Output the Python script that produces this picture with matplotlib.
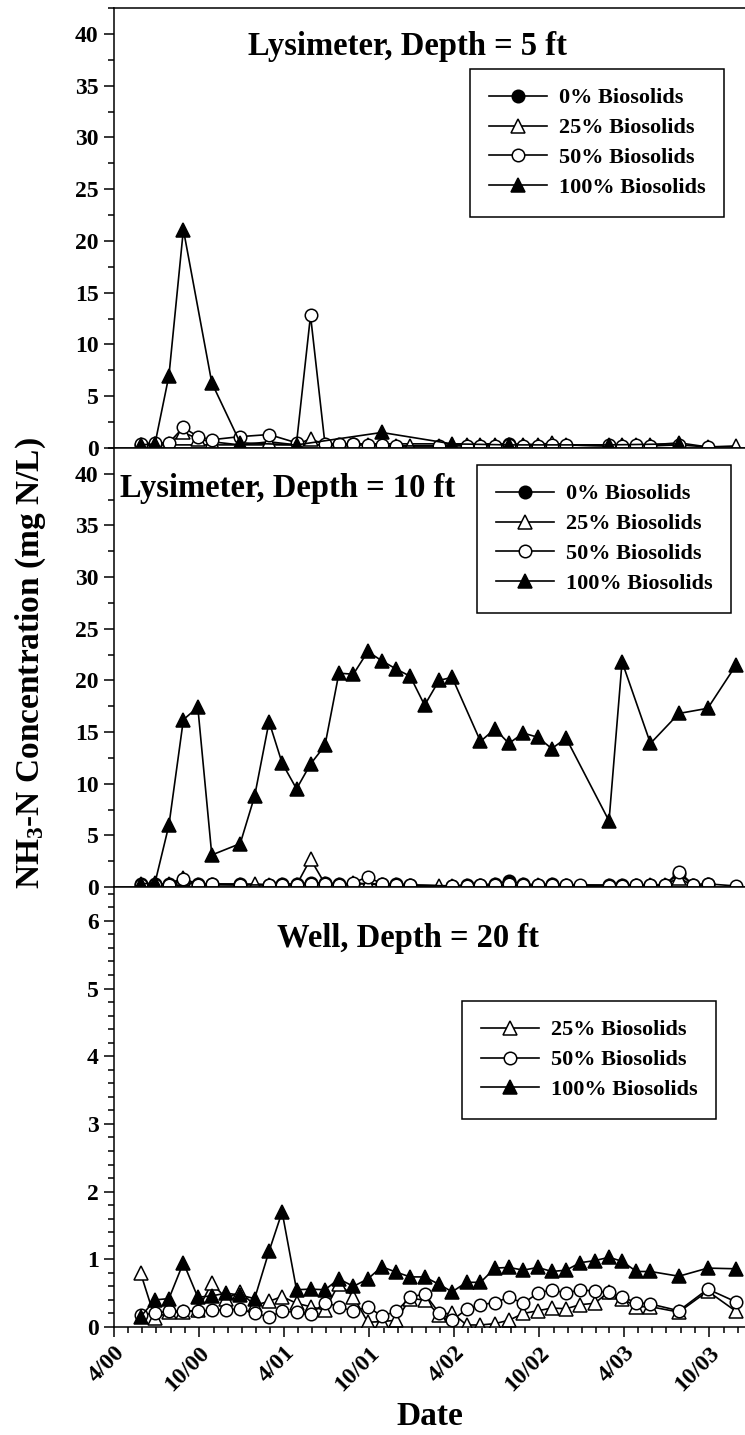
import numpy as np
import pandas as pd
import matplotlib
matplotlib.use("Agg")
import matplotlib.pyplot as plt
import matplotlib.dates as mdates
from matplotlib.ticker import MultipleLocator

plt.rcParams['font.family'] = 'Liberation Serif'
plt.rcParams['font.weight'] = 'bold'
plt.rcParams['axes.labelweight'] = 'bold'
plt.rcParams['mathtext.fontset'] = 'custom'
plt.rcParams['mathtext.rm'] = 'Liberation Serif:bold'
plt.rcParams['mathtext.it'] = 'Liberation Serif:bold'
plt.rcParams['mathtext.bf'] = 'Liberation Serif:bold'

N = None

# sampling dates (roughly monthly)
dates = ["2000-05-28", "2000-06-28", "2000-07-28", "2000-08-28", "2000-09-28", "2000-10-28",
         "2000-11-28", "2000-12-28", "2001-01-28", "2001-02-28", "2001-03-28", "2001-04-28",
         "2001-05-28", "2001-06-28", "2001-07-28", "2001-08-28", "2001-09-28", "2001-10-28",
         "2001-11-28", "2001-12-28", "2002-01-28", "2002-02-28", "2002-03-28", "2002-04-28",
         "2002-05-28", "2002-06-28", "2002-07-28", "2002-08-28", "2002-09-28", "2002-10-28",
         "2002-11-28", "2002-12-28", "2003-01-28", "2003-02-28", "2003-03-28", "2003-04-28",
         "2003-05-28", "2003-06-28", "2003-07-28", "2003-08-28", "2003-09-28", "2003-10-28",
         "2003-11-28"]

# Lysimeter, 5 ft
lys5_0 = [0.3, 0.3, N, N, N, N, N, N, N, N, N, N, N, N, 0.3, 0.4, N, N, N, N, N, N,
          N, N, N, N, 0.4, N, N, N, N, N, N, 0.2, N, N, N, N, N, N, N, N, N]
lys5_25 = [0.3, 0.4, 0.4, 1.5, 0.9, 0.6, N, 0.3, N, 0.6, N, 0.3, 0.9, 0.3, 0.3, 0.3, 0.3, 0.2, 0.2, 0.2, N, 0.2,
           0.3, 0.3, 0.3, 0.3, 0.3, 0.3, 0.3, 0.5, 0.3, N, N, 0.2, 0.3, 0.3, 0.3, N, 0.5, N, 0.1, N, 0.2]
lys5_50 = [0.4, 0.5, 0.5, 2.0, 1.1, 0.8, N, 1.1, N, 1.3, N, 0.5, 12.8, 0.4, 0.4, 0.4, 0.3, 0.3, 0.2, N, N, 0.2,
           N, 0.2, 0.2, 0.2, 0.3, 0.2, 0.2, 0.3, 0.3, N, N, 0.3, 0.2, 0.3, 0.2, N, 0.3, N, 0.1, N, N]
lys5_100 = [0.3, 0.4, 7.0, 21.1, N, 6.3, N, 0.5, N, N, N, 0.3, N, N, N, N, N, 1.5, N, N, N, N,
            0.4, N, N, N, 0.3, N, N, N, N, N, N, 0.3, N, N, N, N, 0.4, N, N, N, N]

# Lysimeter, 10 ft
lys10_0 = [0.3, 0.3, 0.3, 0.4, 0.3, 0.3, N, 0.3, N, 0.2, 0.3, 0.3, 0.4, 0.4, 0.3, 0.3, N, 0.3, 0.3, 0.2, N, N,
           0.1, 0.2, 0.2, 0.3, 0.6, 0.3, 0.2, 0.3, 0.2, N, N, 0.2, 0.2, 0.2, 0.2, 0.2, 1.3, 0.2, 0.3, N, N]
lys10_25 = [0.2, 0.2, 0.3, 0.9, 0.2, 0.2, N, 0.2, 0.3, 0.2, 0.2, 0.2, 2.7, 0.3, 0.2, 0.4, 0.3, 0.2, 0.2, 0.1, N, 0.1,
            0.1, 0.1, 0.1, 0.2, 0.2, 0.2, 0.2, 0.2, 0.1, N, N, 0.1, 0.1, 0.1, 0.2, 0.2, 0.9, 0.1, 0.2, N, N]
lys10_50 = [0.2, 0.2, 0.2, 0.8, 0.2, 0.3, N, 0.2, N, 0.2, 0.2, 0.2, 0.3, 0.3, 0.2, 0.4, 1.0, 0.3, 0.2, 0.2, N, N,
            0.1, 0.1, 0.2, 0.2, 0.3, 0.2, 0.2, 0.2, 0.2, 0.2, N, 0.1, 0.1, 0.2, 0.2, 0.2, 1.5, 0.2, 0.3, N, 0.1]
lys10_100 = [0.3, 0.4, 6.0, 16.2, 17.4, 3.1, N, 4.2, 8.8, 16.0, 12.0, 9.5, 11.9, 13.7, 20.7, 20.6, 22.8, 21.9,
             21.1, 20.4, 17.6, 20.0, 20.3, N, 14.1, 15.3, 13.9, 14.9, 14.5, 13.4, 14.4, N, N, 6.4, 21.8, N,
             13.9, N, 16.8, N, 17.3, N, 21.5]

# Well, 20 ft
well_25 = [0.80, 0.13, 0.22, 0.22, 0.25, 0.65, 0.42, 0.52, 0.32, 0.38, 0.45, 0.35, 0.30, 0.25, 0.64, 0.45,
           0.07, 0.08, 0.10, 0.42, 0.40, 0.18, 0.21, 0.03, 0.03, 0.05, 0.10, 0.20, 0.24, 0.28, 0.27, 0.33,
           0.35, 0.52, 0.42, 0.30, 0.30, N, 0.22, N, 0.53, N, 0.23]
well_50 = [0.17, 0.21, 0.23, 0.24, 0.23, 0.25, 0.25, 0.27, 0.20, 0.15, 0.23, 0.22, 0.19, 0.36, 0.30, 0.23,
           0.30, 0.16, 0.23, 0.44, 0.49, 0.21, 0.10, 0.26, 0.33, 0.36, 0.44, 0.35, 0.50, 0.55, 0.50, 0.55,
           0.53, 0.51, 0.44, 0.36, 0.34, N, 0.24, N, 0.56, N, 0.37]
well_100 = [0.15, 0.40, 0.42, 0.95, 0.44, 0.46, 0.50, 0.47, 0.42, 1.12, 1.70, 0.55, 0.56, 0.55, 0.71, 0.60,
            0.71, 0.89, 0.81, 0.74, 0.74, 0.63, 0.52, 0.66, 0.66, 0.87, 0.88, 0.84, 0.88, 0.82, 0.84, 0.95,
            0.98, 1.03, 0.97, 0.82, 0.82, N, 0.75, N, 0.87, N, 0.86]

labels = ["0% Biosolids", "25% Biosolids", "50% Biosolids", "100% Biosolids"]
styles = [("o", "black"), ("^", "white"), ("o", "white"), ("^", "black")]

t = pd.to_datetime(dates)
W, H = 745, 1435
fig = plt.figure(figsize=(W / 100, H / 100), dpi=100)

L = 114 / W
boxes = [(8, 448), (448, 887), (887, 1327)]
axes = []
for top, bot in boxes:
    ax = fig.add_axes([L, 1 - bot / H, 1 - L, (bot - top) / H])
    axes.append(ax)


def draw(ax, vals, style, label):
    s = pd.Series(vals, index=t, dtype=float).dropna()
    mk, face = style
    ms = 10 if mk == "^" else 9
    ax.plot(s.index, s.values, color="black", lw=1.2, marker=mk, ms=ms,
            mfc=face, mec="black", mew=1.1, label=label)


panels = [
    ([lys5_0, lys5_25, lys5_50, lys5_100], [0, 1, 2, 3]),
    ([lys10_0, lys10_25, lys10_50, lys10_100], [0, 1, 2, 3]),
    ([well_25, well_50, well_100], [1, 2, 3]),
]
for ax, (series, idx) in zip(axes, panels):
    for vals, i in zip(series, idx):
        draw(ax, vals, styles[i], labels[i])

for ax in axes:
    ax.set_xlim(pd.Timestamp("2000-04-01"), pd.Timestamp("2003-12-17"))
    ax.spines["right"].set_visible(False)
    for sp in ax.spines.values():
        sp.set_linewidth(1.1)
    ax.xaxis.set_major_locator(mdates.MonthLocator(bymonth=[4, 10]))
    ax.xaxis.set_minor_locator(mdates.MonthLocator())
    ax.xaxis.set_major_formatter(mdates.DateFormatter("%-m/%y"))
    ax.tick_params(axis="y", which="major", direction="out", length=7, width=1.1, labelsize=17, pad=4)
    ax.tick_params(axis="y", which="minor", direction="out", length=4, width=1.1)

for ax in axes[:2]:
    ax.set_ylim(0, 42.5)
    ax.yaxis.set_major_locator(MultipleLocator(5))
    ax.yaxis.set_minor_locator(MultipleLocator(2.5))
    ax.tick_params(axis="x", which="both", bottom=False, labelbottom=False)

ax3 = axes[2]
ax3.set_ylim(0, 6.5)
ax3.yaxis.set_major_locator(MultipleLocator(1))
ax3.yaxis.set_minor_locator(MultipleLocator(0.2))
ax3.tick_params(axis="x", which="major", direction="out", length=7, width=1.1, labelsize=17, pad=4)
ax3.tick_params(axis="x", which="minor", direction="out", length=4, width=1.1)
for lab in ax3.get_xticklabels():
    lab.set_rotation(45)
    lab.set_ha("right")
    lab.set_rotation_mode("anchor")
ax3.set_xlabel("Date", fontsize=24, fontweight="bold", labelpad=4)

# titles
fig.text(408 / W, 1 - 47 / H, "Lysimeter, Depth = 5 ft", ha="center", va="center", fontsize=23.5)
fig.text(120 / W, 1 - 488 / H, "Lysimeter, Depth = 10 ft", ha="left", va="center", fontsize=23.5)
fig.text(408 / W, 1 - 938 / H, "Well, Depth = 20 ft", ha="center", va="center", fontsize=23.5)

fig.text(31 / W, 1 - 663 / H, "NH$_3$-N Concentration (mg N/L)", rotation=90,
         ha="center", va="center", fontsize=24)

# legends
legpos = [(470, 69), (477, 465), (462, 1001)]
for ax, (lx, ly) in zip(axes, legpos):
    leg = ax.legend(loc="upper left", bbox_to_anchor=(lx / W, 1 - ly / H), bbox_transform=fig.transFigure,
                    frameon=True, fancybox=False, edgecolor="black", framealpha=1, fontsize=16,
                    handlelength=2.6, handletextpad=0.55, labelspacing=0.42, borderpad=0.85,
                    borderaxespad=0, numpoints=1)
    leg.get_frame().set_linewidth(1.1)

fig.savefig("out.png", dpi=100)
